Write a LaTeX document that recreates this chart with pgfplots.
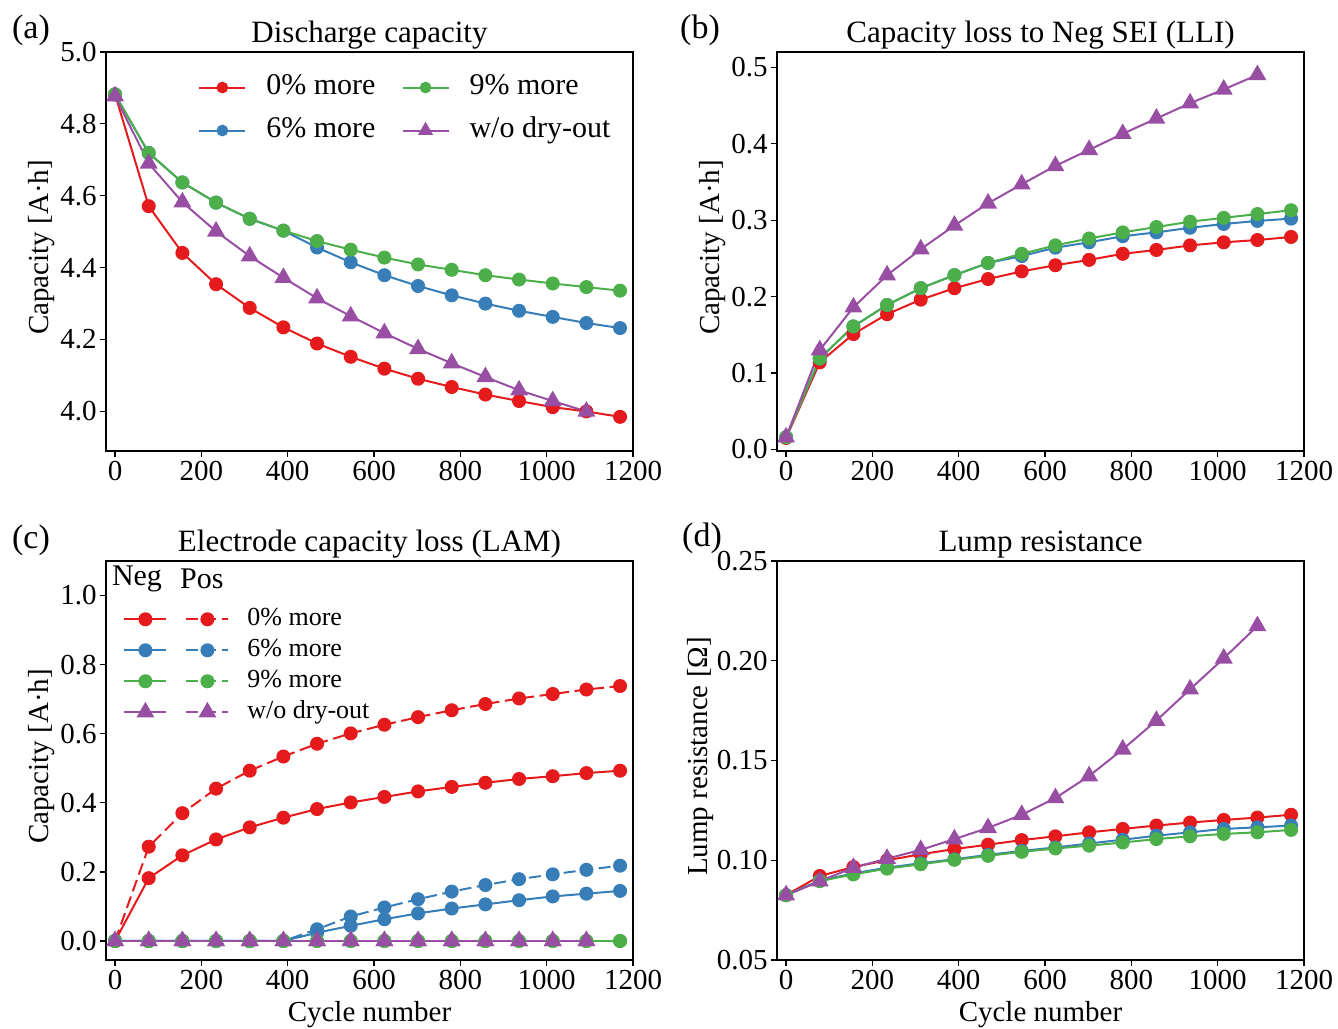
\documentclass[border=0pt]{standalone}
\usepackage{fontspec}
\setmainfont{Liberation Serif}
\usepackage{pgfplots}
\usepackage{pgfplotstable}
\pgfplotsset{compat=1.18}

\definecolor{cR}{HTML}{E41A1C}
\definecolor{cB}{HTML}{377EB8}
\definecolor{cG}{HTML}{4DAF4A}
\definecolor{cP}{HTML}{984EA3}

\pgfplotsset{
  panel/.style={
    scale only axis, width=263.5pt, height=199.5pt,
    xmin=-21, xmax=1200, xtick={0,200,...,1200},
    tick align=outside, xtick pos=bottom, ytick pos=left,
    major tick length=3pt,
    every tick/.style={black, line width=0.6pt},
    axis line style={line width=0.6pt, black},
    tick label style={font=\fontsize{14.5}{17}\selectfont},
    xticklabel style={inner sep=2pt},
    yticklabel style={inner sep=1.5pt},
    label style={font=\fontsize{14.5}{17}\selectfont},
    ylabel style={xshift=2pt, yshift=-2pt},
    title style={font=\fontsize{15.5}{18}\selectfont, inner sep=0pt, yshift=-5pt},
    /pgf/number format/assume math mode=true,
    /pgf/number format/1000 sep={},
    scaled ticks=false,
    legend cell align=left,
  },
  ser/.style={color=#1, line width=1pt, mark=*, mark size=3pt, mark options={solid, fill=#1}},
  tri/.style={color=#1, line width=1pt, mark=triangle*, mark size=4.2pt, mark options={solid, fill=#1}},
  dsh/.style={dash pattern=on 6pt off 2.8pt},
  leglineA/.style={legend image code/.code={\draw[mark repeat=2,mark phase=2,##1] plot coordinates {(0pt,0pt) (11.5pt,0pt) (23pt,0pt)};}},
  leglineC/.style={legend image code/.code={\draw[mark repeat=2,mark phase=2,##1] plot coordinates {(0pt,0pt) (10.5pt,0pt) (21pt,0pt)};}},
}

% (a) discharge capacity [A h]
\pgfplotstableread{
x    r      b      g      p
0    4.882  4.882  4.882  4.877
78   4.571  4.719  4.719  4.690
156  4.441  4.637  4.637  4.582
234  4.354  4.581  4.581  4.501
312  4.288  4.536  4.536  4.432
390  4.234  4.503  4.503  4.372
468  4.189  4.456  4.474  4.315
546  4.152  4.415  4.450  4.265
624  4.119  4.379  4.428  4.218
702  4.091  4.349  4.409  4.174
780  4.068  4.323  4.394  4.134
858  4.047  4.300  4.379  4.096
936  4.029  4.280  4.367  4.059
1014 4.012  4.263  4.356  4.029
1092 4.000  4.246  4.346  4.000
1170 3.985  4.232  4.336  nan
}\tabA

% (b) capacity loss to neg SEI
\pgfplotstableread{
x    r      b      g      p
0    0.015  0.016  0.016  0.016
78   0.114  0.119  0.119  0.130
156  0.151  0.161  0.161  0.186
234  0.177  0.189  0.189  0.228
312  0.196  0.211  0.211  0.262
390  0.211  0.228  0.228  0.293
468  0.223  0.244  0.244  0.322
546  0.233  0.253  0.256  0.347
624  0.241  0.264  0.267  0.371
702  0.248  0.271  0.276  0.392
780  0.256  0.279  0.284  0.413
858  0.261  0.284  0.291  0.433
936  0.267  0.290  0.298  0.453
1014 0.271  0.295  0.303  0.471
1092 0.274  0.299  0.308  0.490
1170 0.278  0.302  0.313  nan
}\tabB

% (c) LAM: n = negative, p = positive
\pgfplotstableread{
x    rn     rp     bn     bp     g    w
0    0      0      0      0      0    0
78   0.182  0.273  0      0      0    0
156  0.248  0.370  0      0      0    0
234  0.294  0.441  0      0      0    0
312  0.329  0.493  0      0      0    0
390  0.357  0.534  0      0      0    0
468  0.382  0.571  0.024  0.034  0    0
546  0.401  0.601  0.044  0.071  0    0
624  0.417  0.626  0.063  0.097  0    0
702  0.433  0.648  0.080  0.121  0    0
780  0.446  0.668  0.094  0.143  0    0
858  0.458  0.686  0.106  0.162  0    0
936  0.469  0.702  0.118  0.179  0    0
1014 0.477  0.715  0.129  0.193  0    0
1092 0.486  0.728  0.137  0.206  0    0
1170 0.493  0.738  0.145  0.218  0    nan
}\tabC

% (d) lump resistance [Ohm]
\pgfplotstableread{
x    r       b       g       p
0    0.0825  0.0825  0.0825  0.0825
78   0.0921  0.0898  0.0895  0.0895
156  0.0966  0.0934  0.0929  0.0963
234  0.1000  0.0963  0.0958  0.1008
312  0.1030  0.0985  0.0980  0.1052
390  0.1056  0.1005  0.1002  0.1106
468  0.1078  0.1027  0.1022  0.1162
546  0.1101  0.1047  0.1042  0.1228
624  0.1120  0.1064  0.1059  0.1312
702  0.1140  0.1084  0.1073  0.1422
780  0.1157  0.1103  0.1089  0.1556
858  0.1174  0.1123  0.1106  0.1700
936  0.1189  0.1140  0.1120  0.1857
1014 0.1202  0.1157  0.1132  0.2012
1092 0.1214  0.1165  0.1140  0.2174
1170 0.1228  0.1174  0.1152  nan
}\tabD

\begin{document}
\begin{tikzpicture}
\useasboundingbox (0,0) rectangle (669pt,514pt);

% ---------- (a)
\begin{axis}[panel, at={(53pt,288.5pt)}, anchor=south west,
  ymin=3.89, ymax=5.0, ytick={4.0,4.2,4.4,4.6,4.8,5.0},
  yticklabel style={/pgf/number format/.cd, fixed, fixed zerofill, precision=1},
  title={Discharge capacity}, ylabel={Capacity [A·h]},
  leglineA, legend columns=2,
  legend style={draw=none, fill=none, inner sep=0pt, at={(0.1746,0.947)}, anchor=north west,
    font=\fontsize{15}{18}\selectfont,
    nodes={inner sep=0pt, text height=10.5pt, text depth=3.5pt},
    column sep=10pt, /tikz/every even column/.append style={column sep=13pt}, row sep=7.5pt}]
\addplot[ser=cR, forget plot] table[x=x, y=r] {\tabA};
\addplot[ser=cB, forget plot] table[x=x, y=b] {\tabA};
\addplot[ser=cG, forget plot] table[x=x, y=g] {\tabA};
\addplot[tri=cP, forget plot] table[x=x, y=p] {\tabA};
\addlegendimage{ser=cR, mark size=2.4pt}\addlegendentry{0\% more}
\addlegendimage{ser=cG, mark size=2.4pt}\addlegendentry{9\% more}
\addlegendimage{ser=cB, mark size=2.4pt}\addlegendentry{6\% more}
\addlegendimage{tri=cP, mark size=3.4pt}\addlegendentry{w/o dry-out}
\end{axis}

% ---------- (b)
\begin{axis}[panel, at={(388.5pt,288.5pt)}, anchor=south west,
  ymin=-0.002, ymax=0.52, ytick={0,0.1,0.2,0.3,0.4,0.5},
  yticklabel style={/pgf/number format/.cd, fixed, fixed zerofill, precision=1},
  title={Capacity loss to Neg SEI (LLI)}, ylabel={Capacity [A·h]}]
\addplot[ser=cR] table[x=x, y=r] {\tabB};
\addplot[ser=cB] table[x=x, y=b] {\tabB};
\addplot[ser=cG] table[x=x, y=g] {\tabB};
\addplot[tri=cP] table[x=x, y=p] {\tabB};
\end{axis}

% ---------- (c)
\begin{axis}[panel, at={(53pt,34pt)}, anchor=south west,
  ymin=-0.055, ymax=1.1, ytick={0,0.2,0.4,0.6,0.8,1.0},
  yticklabel style={/pgf/number format/.cd, fixed, fixed zerofill, precision=1},
  title={Electrode capacity loss (LAM)}, ylabel={Capacity [A·h]}, xlabel={Cycle number},
  leglineC, legend columns=2,
  legend style={draw=none, fill=none, inner sep=0pt, at={(0.0323,0.885)}, anchor=north west,
    font=\fontsize{13}{15}\selectfont,
    nodes={inner sep=0pt, text height=9pt, text depth=3pt},
    column sep=9pt, /tikz/column 2/.style={column sep=-1pt}, row sep=3.5pt}]
\addplot[ser=cR, forget plot] table[x=x, y=rn] {\tabC};
\addplot[ser=cR, dsh, forget plot] table[x=x, y=rp] {\tabC};
\addplot[ser=cB, forget plot] table[x=x, y=bn] {\tabC};
\addplot[ser=cB, dsh, forget plot] table[x=x, y=bp] {\tabC};
\addplot[ser=cG, forget plot] table[x=x, y=g] {\tabC};
\addplot[ser=cG, dsh, forget plot] table[x=x, y=g] {\tabC};
\addplot[tri=cP, forget plot] table[x=x, y=w] {\tabC};
\addplot[tri=cP, dsh, forget plot] table[x=x, y=w] {\tabC};
\addlegendimage{ser=cR}\addlegendentry{\mbox{}}
\addlegendimage{ser=cR, dsh}\addlegendentry{0\% more}
\addlegendimage{ser=cB}\addlegendentry{\mbox{}}
\addlegendimage{ser=cB, dsh}\addlegendentry{6\% more}
\addlegendimage{ser=cG}\addlegendentry{\mbox{}}
\addlegendimage{ser=cG, dsh}\addlegendentry{9\% more}
\addlegendimage{tri=cP}\addlegendentry{\mbox{}}
\addlegendimage{tri=cP, dsh}\addlegendentry{w/o dry-out}
\node[font=\fontsize{15}{18}\selectfont] at (rel axis cs:0.0588,0.955) {Neg};
\node[font=\fontsize{15}{18}\selectfont] at (rel axis cs:0.182,0.955) {Pos};
\end{axis}

% ---------- (d)
\begin{axis}[panel, at={(388.5pt,34pt)}, anchor=south west,
  ymin=0.05, ymax=0.25, ytick={0.05,0.10,0.15,0.20,0.25},
  yticklabel style={/pgf/number format/.cd, fixed, fixed zerofill, precision=2},
  ylabel style={yshift=-1.5pt},
  title={Lump resistance}, ylabel={Lump resistance [Ω]}, xlabel={Cycle number}]
\addplot[ser=cR] table[x=x, y=r] {\tabD};
\addplot[ser=cB] table[x=x, y=b] {\tabD};
\addplot[ser=cG] table[x=x, y=g] {\tabD};
\addplot[tri=cP] table[x=x, y=p] {\tabD};
\end{axis}

\node[font=\fontsize{17}{20}\selectfont] at (15.5pt,499pt) {(a)};
\node[font=\fontsize{17}{20}\selectfont] at (350pt,499pt) {(b)};
\node[font=\fontsize{17}{20}\selectfont] at (15.5pt,244pt) {(c)};
\node[font=\fontsize{17}{20}\selectfont] at (351pt,245pt) {(d)};
\end{tikzpicture}
\end{document}
